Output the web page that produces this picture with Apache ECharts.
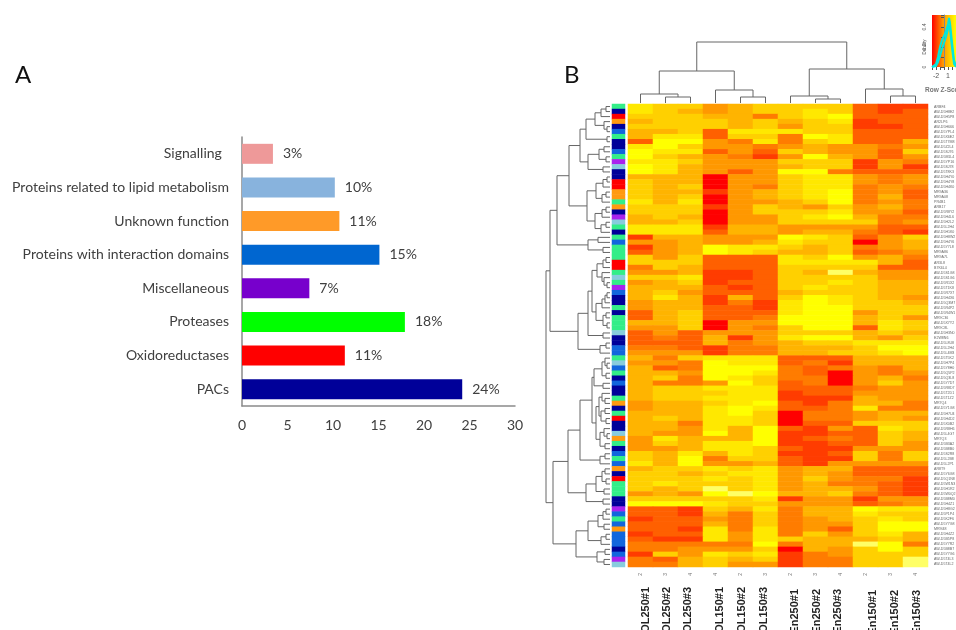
<!DOCTYPE html>
<html><head><meta charset="utf-8">
<style>html,body{margin:0;padding:0;background:#fff}#c{width:956px;height:630px}#c canvas{filter:blur(0.7px)}</style>
<script src="https://cdn.jsdelivr.net/npm/echarts@6/dist/echarts.min.js"></script>
</head><body><div id="c"></div>
<script>
// ---- Panel A ----
const barCategories = ['PACs','Oxidoreductases','Proteases','Miscellaneous','Proteins with interaction domains','Unknown function','Proteins related to lipid metabolism','Signalling  '];
const barValues = [24.2,11.3,17.9,7.4,15.1,10.7,10.2,3.4];
const barPercents = ['24%','11%','18%','7%','15%','11%','10%','3%'];
const barColors = ['#000099','#ff0000','#00ff00','#7700cc','#0066d0','#ff9a28','#88b3dd','#ee9999'];
const barTicks = [0,5,10,15,20,25,30];

// ---- Panel B heat map: one row per protein, 0 = palest yellow ... 9 = red ----
const colLevels = ['2','3','4','4','2','3','2','3','4','2','3','4'];
const colNames = ['OL250#1','OL250#2','OL250#3','OL150#1','OL150#2','OL150#3','En250#1','En250#2','En250#3','En150#1','En150#2','En150#3'];
const heatRows = [
[2,3,3,5,4,3,3,3,3,7,8,8],[2,3,4,5,4,3,3,2,3,7,8,7],[3,3,3,4,4,6,3,2,1,7,7,7],[4,3,3,3,4,3,4,3,2,8,7,7],
[3,3,3,3,4,3,5,3,3,8,8,7],[4,4,3,7,2,2,2,3,3,7,7,7],[4,2,2,7,3,3,6,1,2,7,7,7],[7,1,1,5,6,2,6,3,2,7,7,4],
[2,1,3,5,5,6,5,4,5,5,6,5],[1,2,2,7,5,7,3,4,5,5,7,3],[1,3,4,5,6,8,5,1,4,5,7,5],[2,2,3,5,5,5,3,3,3,8,5,6],
[1,2,4,5,5,5,4,3,3,8,5,8],[1,2,4,5,7,5,1,1,6,7,7,7],[4,4,4,9,5,5,3,2,2,5,6,5],[3,4,4,9,5,5,3,2,2,5,6,5],
[3,4,3,9,5,6,3,2,2,6,5,6],[3,4,4,8,5,4,3,2,1,6,5,7],[3,4,3,9,5,4,3,2,1,6,4,7],[2,4,2,9,5,5,4,3,1,6,5,6],
[3,3,3,8,5,3,4,5,3,5,4,6],[3,3,3,9,5,3,3,3,2,5,5,7],[4,3,4,9,5,5,3,2,1,4,6,6],[4,4,3,9,5,5,3,3,3,3,6,5],
[2,2,2,8,4,4,5,5,5,5,7,7],[2,2,2,7,4,4,5,4,4,6,7,8],[8,4,4,5,5,5,1,2,3,7,5,3],[5,5,4,5,5,4,2,3,3,9,5,4],
[8,5,4,1,2,2,3,4,3,6,5,4],[7,5,4,1,2,3,4,4,3,7,6,5],[3,5,3,7,7,7,2,3,1,5,4,6],[3,3,3,7,7,7,2,2,2,2,4,7],
[6,3,4,7,7,7,3,3,3,3,7,7],[5,5,4,8,8,7,3,4,0,4,5,5],[3,3,2,8,8,7,3,3,3,3,5,5],[5,4,3,8,7,7,3,3,2,3,4,4],
[4,4,4,7,8,7,3,2,3,3,4,4],[4,3,5,7,7,7,4,3,3,3,4,4],[4,2,4,8,4,7,3,1,2,3,4,5],[5,4,4,8,6,8,2,1,2,3,3,4],
[5,4,4,7,7,8,2,1,1,3,3,3],[7,4,3,7,7,7,2,1,1,5,3,3],[7,4,3,7,7,6,1,1,1,4,3,5],[4,4,3,9,5,5,1,1,1,4,2,3],
[5,5,3,9,5,6,3,1,1,7,2,3],[7,5,7,5,5,5,3,3,3,4,3,4],[7,6,7,4,8,5,2,1,1,4,5,3],[7,7,7,4,6,5,4,3,3,2,2,2],
[6,6,7,8,6,6,4,4,4,3,1,1],[5,5,5,8,6,6,4,4,3,3,2,1],[4,6,3,2,2,2,7,7,7,4,4,4],[5,5,6,1,2,2,7,6,8,4,4,4],
[4,7,6,1,1,1,6,7,6,5,6,4],[4,4,5,1,1,2,6,7,9,5,6,5],[4,3,6,1,2,3,6,6,9,5,4,6],[4,6,6,5,1,3,7,6,9,5,3,5],
[4,3,3,2,2,2,7,7,7,6,5,5],[4,3,3,3,2,2,8,7,7,5,5,5],[4,3,3,2,2,2,8,8,8,4,5,5],[5,4,4,3,2,1,7,8,6,4,4,6],
[5,4,4,2,1,2,7,7,6,2,6,6],[4,4,4,2,1,3,9,6,6,5,4,4],[4,3,4,2,2,3,9,6,6,5,4,5],[4,4,6,2,2,3,9,7,7,3,3,3],
[4,4,5,2,4,1,7,8,5,7,2,3],[4,5,5,1,4,1,8,8,7,7,3,4],[5,2,4,4,4,1,8,7,6,7,3,4],[5,3,4,2,2,1,8,8,7,7,3,5],
[5,5,4,2,2,3,7,8,8,5,5,5],[3,4,2,4,2,3,8,8,7,3,6,3],[3,4,1,6,3,3,7,8,8,3,6,3],[2,4,1,5,5,4,7,8,5,5,5,5],
[4,3,3,2,3,2,5,4,4,7,7,7],[3,3,4,3,2,2,5,4,5,7,7,7],[3,3,3,2,3,2,5,3,5,6,6,8],[3,2,3,3,3,2,5,4,6,6,7,8],
[3,4,3,0,3,2,5,4,4,5,7,8],[5,4,5,1,0,1,4,4,3,6,7,8],[3,3,3,3,3,2,8,5,5,8,5,5],[1,1,1,2,3,3,5,5,5,7,6,5],
[7,7,8,3,4,2,6,4,4,1,2,2],[7,7,8,4,6,3,6,4,4,2,3,3],[8,7,7,5,6,3,6,5,4,3,2,3],[7,7,7,4,6,3,6,5,5,3,1,1],
[7,7,8,2,6,2,6,5,7,3,1,1],[8,7,7,2,5,2,6,3,5,3,2,4],[7,8,8,2,5,2,3,4,4,4,3,4],[6,6,6,6,6,1,6,4,4,0,1,6],
[6,6,5,5,5,3,9,4,5,3,1,3],[8,3,5,2,3,2,8,6,5,3,3,3],[6,7,4,3,4,3,8,6,6,3,3,0],[6,6,4,3,5,5,8,6,6,3,3,0]
];
const heatColors = ['#ffff66','#ffff00','#ffe800','#ffd000','#ffb400','#ff9800','#ff7c00','#ff6000','#ff3c00','#ff0000'];

// side colour strip: functional class of each row (same classes as panel A)
const sideClasses = ['G','N','R','O','N','B','G','N','N','B','G','P','L','N','N','R','R','O','O','G','O','N','P','L','G','N','G','B','G','G','G','R','R','G','L','G','P','B','N','N','G','N','G','G','G','L','N','N','B','B','G','L','B','G','N','B','N','N','G','O','N','G','R','N','N','L','O','G','N','B','G','B','O','N','R','G','G','G','N','N','P','B','G','B','O','B','B','B','N','B','P','L'];
const classColors = {G:'#33ee88',N:'#000099',R:'#ff0000',O:'#ff9a10',B:'#1166dd',P:'#aa22ee',L:'#88ccdd'};

// tiny row labels (barely legible in the reference, best reading)
const rowLabels = ['ARBF4','AW-D5H8E2','AW-D5H5P8','AR2LP6','AW-D5H666','AW-D5YPL4','AW-D5X6E2','AW-D5T7M8','AW-D5Z2L4','AW-D5SJ76','AW-D5M1L4','AW-D5YP16','AW-D5SJ78','AW-D5T8K3','AW-D5H4Y0','AW-D5H4Y8','AW-D5H4K0','MR9A36','MR9A08','PR4B1','ARB17','AW-D5R8Y2','AW-D5H4L6','AW-D5H2L2','AW-D5L2H4','AW-D5H1K0','AW-D5H8W2','AW-D5H4Y6','AW-D5Y7L8','MR9A86','MR9A7L','AR3L8','B7K6L4','AW-D5S1G8','AW-D5S1G6','AW-D5R1X2','AW-D5T1K8','AW-D5R7X7','AW-D5H4X6','AW-D5Q3M7','AW-D5R4P2','AW-D5R4W1','MR9C36','AW-D5X7Y2','MR9C8L','AW-D5H3N0','E2W8N6','AW-D5L8U8','AW-D5L2H4','AW-D5L4M3','AW-D5T5K2','AW-D5H7P4','AW-D5Y8H0','AW-D5Q5P2','AW-D5Q3L8','AW-D5Y7D7','AW-D5R8D7','AW-D5T2D1','AW-D5T1Z2','MR7Q4','AW-D5Y1G8','AW-D5H7U4','AW-D5H4D2','AW-D5X0B2','AW-D5R8H6','AW-D5L4G7','MR7Q3','AW-D5B3A2','AW-D5B8B0','AW-D5S2R8','AW-D5L2B8','AW-D5L2P1','AR8T9','AW-D5Y6G8','AW-D5Q1N8','AW-D5W1N3','AW-D5H1R2','AW-D5W0Q2','AW-D5B8M0','AW-D5H4Z1','AW-D5H8G2','AW-D5P1P4','AW-D5K2F6','AW-D5Y7G8','MR9I48','AW-D5H4Z2','AW-D5B5P8','AW-D5Y7R2','AW-D5B8B7','AW-D5Y7G6','AW-D5T4L3','AW-D5T4L2'];

// column dendrogram: [height, left, right], 0 = one leaf, leaves in heat-map order
const colTree = [61,[32,[9,0,[6,0,0]],[13,0,[6,0,0]]],[34,[7,0,[4,0,0]],[14,0,[7,0,0]]]];

// row dendrogram clusters, same notation
const rowA1 = [24,[15,[9,[4,0,0],0],[6,0,[3,0,0]]],[3,0,0]];
const rowA2 = [22,[11,[6,0,0],[4,0,0]],[7,0,0]];
const rowB1 = [14,[7,[3,0,0],0],[8,[4,0,0],0]];
const rowB2 = [15,[8,[4,0,0],0],[9,[4,0,0],0]];
const rowC  = [22,[12,0,0],[7,0,0]];
const rowD1 = [18,[13,[7,[4,0,0],0],[8,0,[6,0,[3,0,0]]]],[14,[8,[5,[3,0,0],0],0],[7,[4,0,0],[3,0,0]]]];
const rowD3 = [10,[4,0,0],0];
const rowE1 = [16,[8,[5,0,[3,0,0]],[4,0,0]],[7,0,0]];
const rowE2 = [14,[11,[8,0,[5,0,0]],[9,[5,0,0],[4,0,0]]],[10,[6,0,[3,0,0]],[5,0,0]]];
const rowE3 = [10,[5,0,0],0];
const rowF  = [24,[14,[8,[5,0,0],[4,0,0]],[6,0,0]],[7,0,0]];
const rowG1 = [22,[12,[7,[4,0,0],0],[6,0,0]],[9,[4,0,0],0]];
const rowG2 = [13,[5,0,0],[6,0,0]];
const rowTree = [64,
  [60,[53,[41,[30,rowA1,rowA2],[23,rowB1,rowB2]],rowC],[32,[22,rowD1,[7,0,0]],rowD3]],
  [57,[42,[30,[18,rowE1,rowE2],rowE3],rowF],[34,rowG1,rowG2]]];

// colour-key density curves
const keyX1 = [-3,-2.5,-2,-1.5,-1,-0.5,0,0.5,1,1.25,1.5,2,2.5,3];
const keyY1 = [0,0.01,0.03,0.10,0.20,0.27,0.31,0.36,0.43,0.49,0.44,0.25,0.07,0.01];
const keyY2 = [0,0,0.01,0.05,0.11,0.18,0.24,0.30,0.38,0.42,0.38,0.19,0.03,0];
const keyXLabels = {'-2':'-2','1':'1'};
const keyYLabels = {'0':'0','0.2':'0.2','0.4':'0.4'};

// turn a tree into line segments through the same scales
function treeSegments(tree){
  const segs=[]; let leaf=0;
  (function walk(n){
    if(n===0){ const p=leaf+0.5; leaf++; return {p:p,h:0}; }
    const a=walk(n[1]), b=walk(n[2]), h=n[0];
    segs.push([a.p,a.h,a.p,h],[b.p,b.h,b.p,h],[a.p,h,b.p,h]);
    return {p:(a.p+b.p)/2,h:h};
  })(tree);
  return segs;
}
const dendroColor='#666666';
function segRender(swap){
  return function(params,api){
    const v=[api.value(0),api.value(1),api.value(2),api.value(3)];
    const a=api.coord(swap?[v[1],v[0]]:[v[0],v[1]]), b=api.coord(swap?[v[3],v[2]]:[v[2],v[3]]);
    return {type:'line',shape:{x1:a[0],y1:a[1],x2:b[0],y2:b[1]},style:{stroke:dendroColor,lineWidth:1}};
  };
}

const heatData=[];
heatRows.forEach((r,y)=>r.forEach((v,x)=>heatData.push([x,y,v])));
const sideData=sideClasses.map((c,y)=>({value:[0,y,1],itemStyle:{color:classColors[c]}}));
const rowIdx=heatRows.map((_,i)=>i);

const colLabelX=[646,667,688,720,742,764,795,817,838,873,895,917];
const colLabelY=[587,587,587,587,587,587,589,589,589,590,590,590];
const mainFont='Lato';
const free={outerBoundsMode:'none'};

const chart=echarts.init(document.getElementById('c'),null,{renderer:'canvas'});
chart.setOption({
  backgroundColor:'#ffffff',animation:false,
  textStyle:{fontFamily:mainFont},
  grid:[
    Object.assign({left:242,width:273,top:137,height:269},free),
    Object.assign({left:628,width:300,top:104,height:463},free),
    Object.assign({left:612,width:13,top:104,height:463},free),
    Object.assign({left:628,width:300,top:33,height:70},free),
    Object.assign({left:546,width:64,top:104,height:463},free),
    Object.assign({left:932,width:28,top:15,height:52,show:true,borderWidth:0,
      backgroundColor:{type:'linear',x:0,y:0,x2:1,y2:0,colorStops:[{offset:0,color:'#ff0000'},{offset:0.4,color:'#ff9900'},{offset:0.85,color:'#ffff00'},{offset:1,color:'#ffff00'}]}},free)
  ],
  xAxis:[
    {gridIndex:0,type:'value',min:0,max:30,interval:5,axisLine:{show:true,lineStyle:{color:'#8a8a8a',width:1.5}},axisTick:{show:false},splitLine:{show:false},
      axisLabel:{color:'#404040',fontSize:14,margin:12,fontFamily:mainFont,formatter:v=>barTicks.includes(v)?String(v):''}},
    {gridIndex:1,type:'category',data:colLevels,position:'bottom',axisLine:{show:false},axisTick:{show:false},splitLine:{show:false},
      axisLabel:{interval:0,rotate:90,color:'#777',fontSize:5,margin:6,fontFamily:'Liberation Sans',hideOverlap:false}},
    {gridIndex:2,type:'category',data:['c'],show:false},
    {gridIndex:3,type:'value',min:0,max:12,show:false},
    {gridIndex:4,type:'value',min:0,max:64,inverse:true,show:false},
    {gridIndex:5,type:'value',min:-3,max:4,interval:1,axisLine:{show:false},axisTick:{show:true,length:3,lineStyle:{color:'#555'}},splitLine:{show:false},
      axisLabel:{show:true,fontSize:7,color:'#555',margin:6,fontFamily:'Liberation Sans',formatter:v=>keyXLabels[String(v)]||''}}
  ],
  yAxis:[
    {gridIndex:0,type:'category',data:barCategories,axisLine:{show:true,lineStyle:{color:'#8a8a8a',width:1.5}},axisTick:{show:false},
      axisLabel:{color:'#404040',fontSize:14,margin:13,interval:0,fontFamily:mainFont}},
    {gridIndex:1,type:'category',data:rowLabels,inverse:true,position:'right',axisLine:{show:false},axisTick:{show:false},
      axisLabel:{interval:0,fontSize:3.6,color:'#666',margin:6,fontFamily:'Liberation Sans',hideOverlap:false}},
    {gridIndex:2,type:'category',data:rowIdx,inverse:true,show:false},
    {gridIndex:3,type:'value',min:0,max:70,show:false},
    {gridIndex:4,type:'value',min:0,max:heatRows.length,inverse:true,show:false},
    {gridIndex:5,type:'value',min:0,max:0.52,interval:0.1,axisLine:{show:true,lineStyle:{color:'#888'}},axisTick:{show:true,length:3,lineStyle:{color:'#555'}},splitLine:{show:false},
      axisLabel:{show:true,fontSize:5,rotate:90,color:'#555',margin:5,fontFamily:'Liberation Sans',formatter:v=>keyYLabels[String(+v.toFixed(1))]||''}}
  ],
  visualMap:{show:false,seriesIndex:1,type:'continuous',min:0,max:9,inRange:{color:heatColors}},
  series:[
    {type:'bar',xAxisIndex:0,yAxisIndex:0,barWidth:20,
      data:barValues.map((v,i)=>({value:v,itemStyle:{color:barColors[i]},label:{formatter:barPercents[i]}})),
      label:{show:true,position:'right',distance:10,color:'#404040',fontSize:14,fontFamily:mainFont}},
    {type:'heatmap',xAxisIndex:1,yAxisIndex:1,data:heatData,itemStyle:{borderWidth:0}},
    {type:'heatmap',xAxisIndex:2,yAxisIndex:2,data:sideData,itemStyle:{borderWidth:0}},
    {type:'custom',xAxisIndex:3,yAxisIndex:3,renderItem:segRender(false),data:treeSegments(colTree),encode:{x:[0,2],y:[1,3]},silent:true,clip:false},
    {type:'custom',xAxisIndex:4,yAxisIndex:4,renderItem:segRender(true),data:treeSegments(rowTree),encode:{x:[1,3],y:[0,2]},silent:true,clip:false},
    {type:'line',xAxisIndex:5,yAxisIndex:5,symbol:'none',data:keyX1.map((x,i)=>[x,keyY1[i]]),lineStyle:{color:'#00e8e0',width:2}},
    {type:'line',xAxisIndex:5,yAxisIndex:5,symbol:'none',data:keyX1.map((x,i)=>[x,keyY2[i]]),lineStyle:{color:'#00e8e0',width:2}}
  ],
  graphic:[
    {type:'text',left:15,top:63,style:{text:'A',font:'24px '+mainFont,fill:'#111'}},
    {type:'text',left:564,top:63,style:{text:'B',font:'24px '+mainFont,fill:'#111'}},
    {type:'text',x:925,y:47,rotation:Math.PI/2,style:{text:'Density',font:'4.5px Liberation Sans',fill:'#555',align:'center',verticalAlign:'middle'}},
    {type:'text',x:925,y:90,style:{text:'Row Z-Score',font:'bold 6.5px Liberation Sans',fill:'#777',align:'left',verticalAlign:'middle'}}
  ].concat(colNames.map((n,i)=>({type:'text',x:colLabelX[i],y:colLabelY[i],rotation:Math.PI/2,
    style:{text:n,font:'bold 11px Liberation Sans',fill:'#222',align:'right',verticalAlign:'middle'}})))
});
</script></body></html>
